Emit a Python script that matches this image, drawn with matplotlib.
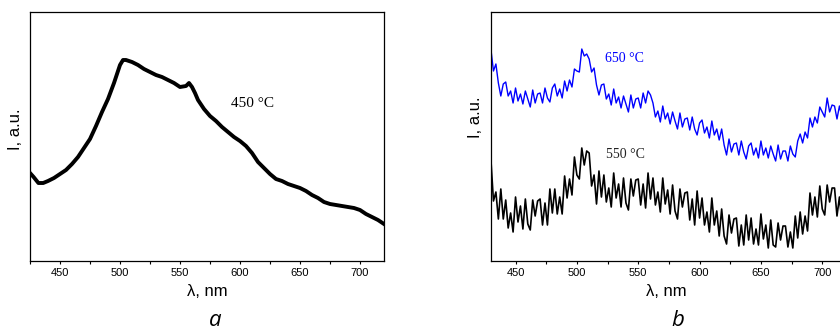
import numpy as np
import matplotlib
matplotlib.use("Agg")
import matplotlib.pyplot as plt
from matplotlib.ticker import MultipleLocator

plt.rcParams['font.family'] = ['Liberation Sans', 'DejaVu Sans']

# ---- panel a: 450 °C spectrum (a.u.) ----
wl_a = [425, 428, 432, 436, 440, 445, 450, 455, 460, 465, 470, 475, 480, 485,
        490, 495, 500, 502.5, 505, 510, 515, 520, 525, 530, 535, 540, 545,
        550, 555, 557.5, 560, 562.5, 565, 570, 575, 580, 585, 590, 595, 600,
        605, 610, 615, 620, 625, 630, 635, 640, 645, 650, 655, 660, 665, 670,
        675, 680, 685, 690, 695, 700, 705, 710, 715, 720]
i_450 = [88, 84, 78, 78, 80, 83, 87, 91, 97, 104, 113, 122, 135, 149,
         162, 178, 196, 201, 201, 199, 196, 192, 189, 186, 184, 181, 178,
         174, 175, 178, 174, 168, 161, 152, 145, 140, 134, 129, 124, 120,
         115, 108, 99, 93, 87, 82, 80, 77, 75, 73, 70, 66, 63, 59,
         57, 56, 55, 54, 53, 51, 47, 44, 41, 37]

# ---- panel b: 550 °C and 650 °C spectra (2 nm steps, a.u.) ----
wl_b = list(range(430, 722, 2))
i_650 = [211, 190, 197, 178, 165, 177, 179, 165, 170, 158,
         173, 160, 167, 157, 170, 162, 154, 171, 158, 167,
         168, 158, 173, 163, 159, 173, 177, 165, 172, 163,
         180, 170, 181, 174, 192, 190, 189, 212, 205, 207,
         202, 189, 193, 176, 166, 176, 177, 162, 167, 156,
         172, 158, 164, 153, 165, 157, 149, 166, 153, 162,
         163, 153, 168, 158, 170, 166, 158, 144, 150, 139,
         155, 142, 148, 137, 149, 140, 132, 148, 134, 142,
         143, 131, 144, 132, 126, 138, 141, 128, 134, 123,
         140, 126, 132, 121, 132, 116, 106, 122, 109, 117,
         118, 106, 120, 109, 102, 115, 118, 106, 113, 103,
         120, 106, 113, 103, 115, 107, 100, 116, 102, 110,
         110, 100, 115, 107, 104, 120, 127, 118, 129, 123,
         143, 134, 144, 138, 154, 149, 144, 163, 149, 156,
         155, 142, 155, 144, 137, 150]
i_550 = [100, 60, 69, 42, 72, 42, 61, 33, 48, 29,
         64, 39, 55, 32, 62, 37, 31, 61, 45, 60,
         62, 36, 58, 36, 72, 48, 72, 47, 64, 47,
         85, 63, 82, 66, 104, 86, 82, 113, 96, 110,
         108, 75, 86, 57, 90, 64, 86, 59, 73, 54,
         88, 63, 77, 54, 83, 58, 51, 82, 65, 81,
         82, 56, 77, 53, 88, 62, 83, 56, 69, 49,
         83, 57, 71, 47, 76, 50, 42, 72, 54, 68,
         69, 41, 62, 36, 70, 43, 63, 36, 49, 29,
         63, 36, 50, 25, 52, 25, 17, 46, 28, 42,
         43, 15, 36, 16, 46, 21, 43, 17, 32, 16,
         47, 22, 36, 13, 41, 16, 14, 38, 21, 35,
         35, 14, 29, 13, 45, 23, 49, 27, 45, 30,
         68, 46, 64, 44, 75, 52, 46, 76, 59, 73,
         73, 45, 64, 39, 74, 48]

xticks = [450, 500, 550, 600, 650, 700]

fig = plt.figure(figsize=(8.4, 3.36), dpi=100)
W, H = 840.0, 336.0

def style(ax, xmin, xmax):
    ax.set_xlim(xmin, xmax)
    ax.set_ylim(0, 249)
    ax.set_xticks(xticks)
    ax.xaxis.set_minor_locator(MultipleLocator(25))
    ax.set_yticks([])
    ax.tick_params(axis='x', which='major', direction='out', length=2.5,
                   width=0.8, labelsize=8, pad=2.5)
    ax.tick_params(axis='x', which='minor', direction='out', length=2,
                   width=0.8)
    for s in ax.spines.values():
        s.set_linewidth(0.9)
        s.set_color('black')
    ax.set_xlabel('λ, nm', fontsize=12)
    ax.set_ylabel('I, a.u.', fontsize=12)

# left panel
axa = fig.add_axes([30 / W, (H - 261) / H, 354 / W, 249 / H])
style(axa, 425, 720)
axa.plot(wl_a, i_450, color='black', lw=2.8, solid_joinstyle='round')
axa.text(592.5, 158, '450 °C', family='Liberation Serif', fontsize=11,
         va='center', ha='left')
axa.xaxis.set_label_coords(0.5, -(291 - 261) / 249)
axa.xaxis.label.set_va('center')
axa.yaxis.set_label_coords(-15 / 354, 0.53)
axa.yaxis.label.set_va('center')

# right panel
axb = fig.add_axes([491 / W, (H - 261) / H, 355.8 / W, 249 / H])
style(axb, 430, 720)
axb.plot(wl_b, i_650, color='#0000ff', lw=1.0)
axb.plot(wl_b, i_550, color='black', lw=1.2)
axb.text(523, 203, '650 °C', family='Liberation Serif', fontsize=10,
         va='center', ha='left', color='#0000ff')
axb.text(523.5, 106, '550 °C', family='Liberation Serif', fontsize=10,
         va='center', ha='left', color='#222222')
axb.xaxis.set_label_coords(0.494, -(291 - 261) / 249)
axb.xaxis.label.set_va('center')
axb.yaxis.set_label_coords(-15 / 355.8, 0.576)
axb.yaxis.label.set_va('center')

# panel letters
fig.text(215 / W, 1 - 331 / H, 'a', family='Open Sans', style='italic',
         fontsize=16, ha='center', va='bottom')
fig.text(678 / W, 1 - 331 / H, 'b', family='Open Sans', style='italic',
         fontsize=16, ha='center', va='bottom')

fig.savefig('out.png', dpi=100)
